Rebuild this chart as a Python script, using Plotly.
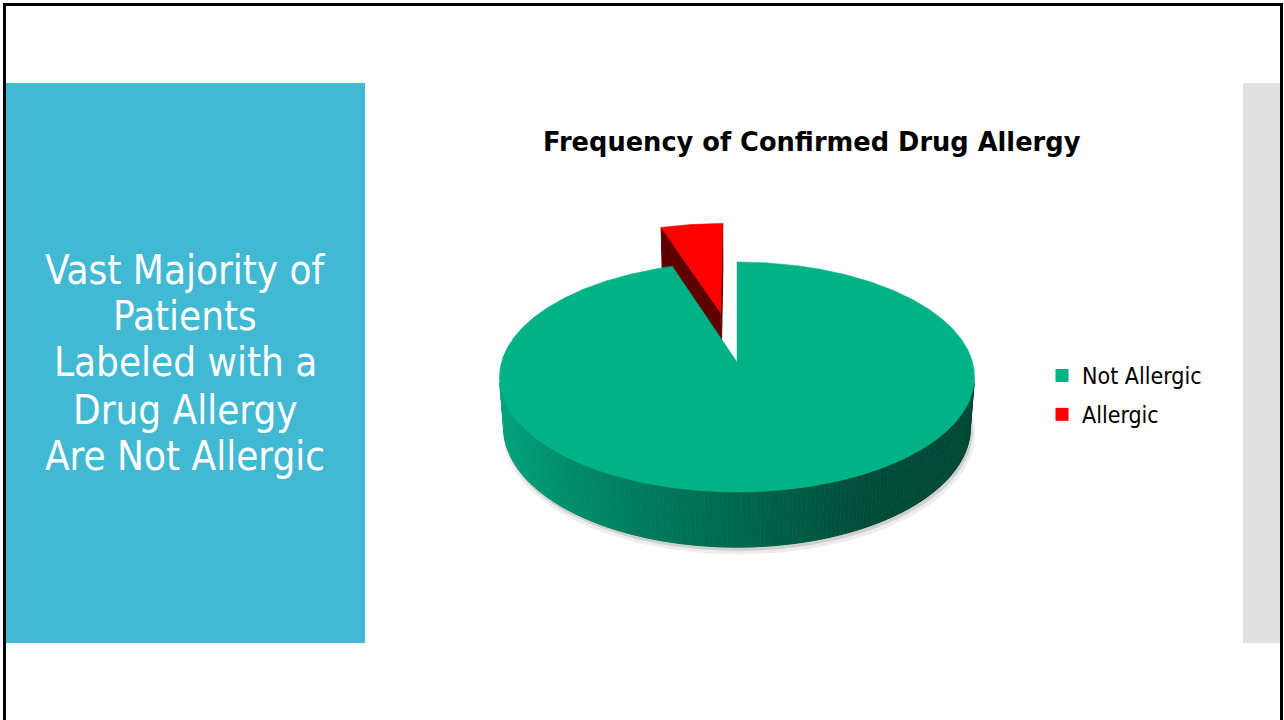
import numpy as np
import plotly.graph_objects as go

# ---------------- data ----------------
labels = ["Not Allergic", "Allergic"]
values = [95, 5]
top_colors = ["#00B386", "#FF0000"]
explode = [0.0, 0.463]

title_text = "Frequency of Confirmed Drug Allergy"
side_lines = ["Vast Majority of", "Patients", "Labeled with a", "Drug Allergy", "Are Not Allergic"]

# ---------------- 3D pie projection settings ----------------
W, Hpx = 1284, 720
CX, CY = 737.0, 362.0
F = 235.5
ALPHA = np.radians(28.7)
DIST = 6.73
DEPTH = 0.248
CAM = np.array([0.0, DIST * np.sin(ALPHA), -DIST * np.cos(ALPHA)])


def proj(X, Y, Z):
    X = np.asarray(X, float); Y = np.asarray(Y, float); Z = np.asarray(Z, float)
    yp = Y * np.cos(ALPHA) + Z * np.sin(ALPHA)
    zp = -Y * np.sin(ALPHA) + Z * np.cos(ALPHA)
    w = 1 + zp / DIST
    return CX + F * X / w, CY - F * yp / w


def depth(X, Y, Z):
    return -Y * np.sin(ALPHA) + Z * np.cos(ALPHA)


def visible(nx, nz, p):
    return nx * (CAM[0] - p[0]) + nz * (CAM[2] - p[2]) > 0


def interp_color(stops, s):
    xs = [a for a, _ in stops]
    r = np.interp(s, xs, [c[0] for _, c in stops])
    g = np.interp(s, xs, [c[1] for _, c in stops])
    b = np.interp(s, xs, [c[2] for _, c in stops])
    return f"rgb({r:.0f},{g:.0f},{b:.0f})"


side_stops = {
    "#00B386": [(-1, (0, 165, 125)), (-0.5, (0, 132, 98)), (0, (0, 104, 77)),
                (0.5, (0, 76, 56)), (1, (0, 70, 52))],
    "#FF0000": [(-1, (150, 0, 0)), (0, (110, 0, 0)), (1, (80, 0, 0))],
}
cut_colors = {"#00B386": "rgb(0,100,75)", "#FF0000": "rgb(94,0,0)"}

fig = go.Figure()

# ---------------- soft shadow under the front rim ----------------
tt = np.radians(np.linspace(90, 270, 91))
sx, sy = proj(np.sin(tt), -DEPTH * np.ones_like(tt), np.cos(tt))
for dx, dy, grow, alpha in [(2, 5, 1.012, 0.07), (1.5, 3, 1.004, 0.12)]:
    fig.add_trace(go.Scatter(
        x=CX + (sx - CX) * grow + dx, y=CY + (sy - CY) * grow + dy,
        mode="lines", fill="toself", fillcolor=f"rgba(0,0,0,{alpha})",
        line=dict(width=0), hoverinfo="skip", showlegend=False))

# ---------------- slices ----------------
total = float(sum(values))
slices = []
cum = 0.0
for lab, v, col, e in zip(labels, values, top_colors, explode):
    a0 = 360 * cum / total
    a1 = a0 + 360 * v / total
    cum += v
    mid = np.radians((a0 + a1) / 2)
    ox, oz = e * np.sin(mid), e * np.cos(mid)
    d = depth(ox + 0.5 * np.sin(mid), 0, oz + 0.5 * np.cos(mid))
    slices.append((d, lab, col, a0, a1, ox, oz))

slices.sort(key=lambda s: -s[0])  # far first

for d, lab, col, a0, a1, ox, oz in slices:
    polys = []
    # outer side strips
    n = max(2, int(round(a1 - a0)) + 1)
    th = np.radians(np.linspace(a0, a1, n))
    for k in range(len(th) - 1):
        t0, t1 = th[k], th[k + 1]
        tm = (t0 + t1) / 2
        p = (ox + np.sin(tm), -DEPTH / 2, oz + np.cos(tm))
        if not visible(np.sin(tm), np.cos(tm), p):
            continue
        X = ox + np.sin([t0, t1, t1, t0])
        Z = oz + np.cos([t0, t1, t1, t0])
        Y = [0, 0, -DEPTH, -DEPTH]
        px, py = proj(X, Y, Z)
        polys.append((depth(p[0], p[1], p[2]), px, py,
                      interp_color(side_stops[col], np.sin(tm))))
    # cut faces
    for ang, sign in [(np.radians(a0), -1), (np.radians(a1), 1)]:
        if a1 - a0 >= 360:
            break
        nx, nz = sign * np.cos(ang), -sign * np.sin(ang)
        p = (ox + 0.5 * np.sin(ang), -DEPTH / 2, oz + 0.5 * np.cos(ang))
        if not visible(nx, nz, p):
            continue
        X = [ox, ox + np.sin(ang), ox + np.sin(ang), ox]
        Z = [oz, oz + np.cos(ang), oz + np.cos(ang), oz]
        Y = [0, 0, -DEPTH, -DEPTH]
        px, py = proj(X, Y, Z)
        polys.append((depth(p[0], p[1], p[2]), px, py, cut_colors[col]))
    polys.sort(key=lambda q: -q[0])
    for _, px, py, c in polys:
        fig.add_trace(go.Scatter(
            x=px, y=py, mode="lines", fill="toself", fillcolor=c,
            line=dict(color=c, width=1), hoverinfo="skip", showlegend=False))
    # top face
    tht = np.radians(np.linspace(a0, a1, max(3, int(round(a1 - a0)) * 2 + 1)))
    X = np.concatenate([[ox], ox + np.sin(tht), [ox]])
    Z = np.concatenate([[oz], oz + np.cos(tht), [oz]])
    px, py = proj(X, np.zeros_like(X), Z)
    fig.add_trace(go.Scatter(
        x=px, y=py, mode="lines", fill="toself", fillcolor=col,
        line=dict(color=col, width=0.5), hoverinfo="skip", showlegend=False,
        name=lab))

# ---------------- legend entries ----------------
for lab, col in zip(labels, top_colors):
    fig.add_trace(go.Scatter(
        x=[None], y=[None], mode="markers", name=lab, legendgroup=lab,
        marker=dict(symbol="square", size=13, color=col)))

# ---------------- slide decorations ----------------
shapes = [
    dict(type="rect", x0=6, x1=365, y0=83, y1=643, fillcolor="#42B9D3", line=dict(width=0), layer="below"),
    dict(type="rect", x0=1243, x1=1280, y0=83, y1=643, fillcolor="#E0E0E0", line=dict(width=0), layer="below"),
    dict(type="rect", x0=3, x1=1283, y0=3, y1=6, fillcolor="black", line=dict(width=0)),
    dict(type="rect", x0=3, x1=6, y0=3, y1=720, fillcolor="black", line=dict(width=0)),
    dict(type="rect", x0=1280, x1=1283, y0=3, y1=720, fillcolor="black", line=dict(width=0)),
]
for s in shapes:
    s.update(xref="x", yref="y")

annotations = [dict(
    x=812, y=142, xref="x", yref="y", text=f"<b>{title_text}</b>", showarrow=False,
    font=dict(family="DejaVu Sans", size=25.7, color="black"),
    xanchor="center", yanchor="middle")]
line_y = [270, 316, 362, 410, 456]
for t, yv in zip(side_lines, line_y):
    annotations.append(dict(
        x=185, y=yv, xref="x", yref="y", text=t, showarrow=False,
        font=dict(family="DejaVu Sans Condensed, DejaVu Sans", size=40, color="white"),
        xanchor="center", yanchor="middle"))

fig.update_layout(
    width=W, height=Hpx, autosize=False,
    margin=dict(l=0, r=0, t=0, b=0, pad=0),
    paper_bgcolor="white", plot_bgcolor="white",
    xaxis=dict(range=[0, W], visible=False, fixedrange=True, domain=[0, 1]),
    yaxis=dict(range=[Hpx, 0], visible=False, fixedrange=True, domain=[0, 1]),
    shapes=shapes, annotations=annotations,
    showlegend=True,
    legend=dict(x=(1082 - 40) / W, y=1 - 354 / Hpx, xanchor="left", yanchor="top",
                font=dict(family="DejaVu Sans Condensed, DejaVu Sans", size=23, color="black"),
                bgcolor="rgba(0,0,0,0)", tracegroupgap=6, itemclick=False, itemdoubleclick=False),
)

fig.write_html("out.html")
